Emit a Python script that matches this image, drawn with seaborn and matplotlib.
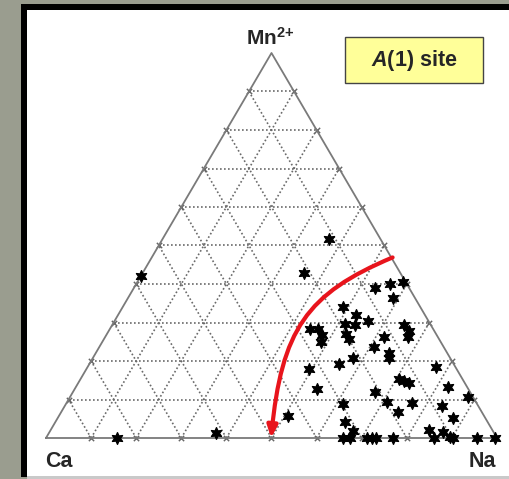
import matplotlib.pyplot as plt
import matplotlib.patches as mpatches
from matplotlib.path import Path
import numpy as np
import seaborn as sns

# Ternary data: fractions of Na and Mn2+ (Ca = 1 - Na - Mn)
na = [0.369, 0.357, 0.535, 0.563, 0.590, 0.587, 0.490, 0.527, 0.516, 0.538,
      0.562, 0.444, 0.461, 0.479, 0.484, 0.530, 0.544, 0.647, 0.666, 0.672,
      0.618, 0.608, 0.650, 0.657, 0.577, 0.553, 0.495, 0.773, 0.707, 0.720,
      0.734, 0.536, 0.669, 0.824, 0.882, 0.708, 0.766, 0.615, 0.835, 0.746,
      0.877, 0.508, 0.642, 0.672, 0.838, 0.872, 0.894,
      0.659, 0.673, 0.712, 0.722, 0.732, 0.770, 0.860, 0.902, 0.955, 0.996,
      0.157, 0.371, 0.000]
mn = [0.517, 0.429, 0.390, 0.400, 0.404, 0.364, 0.339, 0.319, 0.296, 0.294,
      0.305, 0.282, 0.282, 0.268, 0.250, 0.270, 0.257, 0.294, 0.279, 0.262,
      0.262, 0.237, 0.222, 0.209, 0.209, 0.192, 0.178, 0.185, 0.152, 0.149,
      0.142, 0.128, 0.120, 0.133, 0.107, 0.094, 0.090, 0.088, 0.084, 0.068,
      0.051, 0.058, 0.042, 0.018, 0.021, 0.016, 0.003,
      0.0, 0.0, 0.0, 0.0, 0.0, 0.0, 0.0, 0.0, 0.0, 0.0,
      0.0, 0.014, 0.422]

# red trend arrow: start, two bezier control points, end (Na, Mn)
curve_na = [0.534, 0.390, 0.382, 0.499]
curve_mn = [0.469, 0.375, 0.281, 0.0]

grid_steps = [0.1, 0.2, 0.3, 0.4, 0.5, 0.6, 0.7, 0.8, 0.9]


def tern(n, m):
    n = np.asarray(n, dtype=float)
    m = np.asarray(m, dtype=float)
    return n + m / 2, m


W, H = 510, 479
sns.set_style("white")
plt.rcParams['font.family'] = ['Liberation Sans', 'DejaVu Sans']
plt.rcParams['mathtext.fontset'] = 'custom'
plt.rcParams['mathtext.rm'] = 'Liberation Sans:bold'
plt.rcParams['mathtext.bf'] = 'Liberation Sans:bold'
plt.rcParams['mathtext.it'] = 'Liberation Sans:bold:italic'
plt.rcParams['mathtext.default'] = 'bf'

fig = plt.figure(figsize=(W / 100, H / 100), dpi=100)
fig.patch.set_facecolor('#9a9d8f')


def frect(x0, y0, x1, y1, **kw):
    # rectangle in figure pixel coords (y from top)
    r = mpatches.Rectangle((x0 / W, 1 - y1 / H), (x1 - x0) / W, (y1 - y0) / H,
                           transform=fig.transFigure, zorder=-2, **kw)
    fig.add_artist(r)


frect(21, 4, 520, 477, facecolor='black', edgecolor='none')
frect(27, 10, 520, 476, facecolor='white', edgecolor='none')
frect(27, 476, 520, 480, facecolor='#c9c9c9', edgecolor='none')

ax = fig.add_axes([0, 0, 1, 1])
ax.patch.set_alpha(0)
ax.set_axis_off()
# pixel placement: Ca (46,438), Na (497,438), apex y=53
ax.set_xlim(-46 / 451, (W - 46) / 451)
ax.set_ylim((438 - H) / 385, 438 / 385)


def px(x, y):
    return (x - 46) / 451, (438 - y) / 385


# grid lines
grid_col = '#6a6a6a'
ends = []
for f in grid_steps:
    for (n0, m0, n1, m1) in [(0, f, 1 - f, f), (f, 0, f, 1 - f), (1 - f, 0, 0, 1 - f)]:
        xs, ys = tern([n0, n1], [m0, m1])
        ax.plot(xs, ys, color=grid_col, lw=1.2, ls=(0, (1, 1.4)), zorder=1)
        ends += [(n0, m0), (n1, m1)]
ex, ey = tern([e[0] for e in ends], [e[1] for e in ends])
ax.scatter(ex, ey, marker='x', s=14, color='#666666', linewidths=0.8, zorder=2)

# triangle outline
tx, ty = tern([0, 1, 0, 0], [0, 0, 1, 0])
ax.plot(tx, ty, color='#7a7a7a', lw=1.3, zorder=2)

# data points
px_, py_ = tern(na, mn)
sns.scatterplot(x=px_, y=py_, marker=(6, 1, 0), s=70, color='black',
                edgecolor='black', linewidth=1.0, ax=ax, zorder=4, legend=False)

# red arrow curve
cx, cy = tern(curve_na, curve_mn)
path = Path(list(zip(cx, cy)), [Path.MOVETO, Path.CURVE4, Path.CURVE4, Path.CURVE4])
arrow = mpatches.FancyArrowPatch(path=path,
                                 arrowstyle='-|>,head_length=7,head_width=3',
                                 color='#e8141c', lw=3.0, zorder=5,
                                 capstyle='round')
ax.add_patch(arrow)

# vertex labels
ax.text(*px(270, 45), r'Mn$^{2{+}}$', ha='center', va='baseline',
        fontsize=15, fontweight='bold')
ax.text(*px(45, 467), 'Ca', ha='left', va='baseline', fontsize=15.5, fontweight='bold')
ax.text(*px(496, 467), 'Na', ha='right', va='baseline', fontsize=15.5, fontweight='bold')

# site box
frect(345, 37, 483, 83, facecolor='#ffff99', edgecolor='#444444', linewidth=1.0)
ax.text(*px(414, 61), r'$\mathit{A}$(1) site', ha='center', va='center',
        fontsize=15.5, fontweight='bold')

fig.savefig('out.png', dpi=100, facecolor=fig.get_facecolor())
